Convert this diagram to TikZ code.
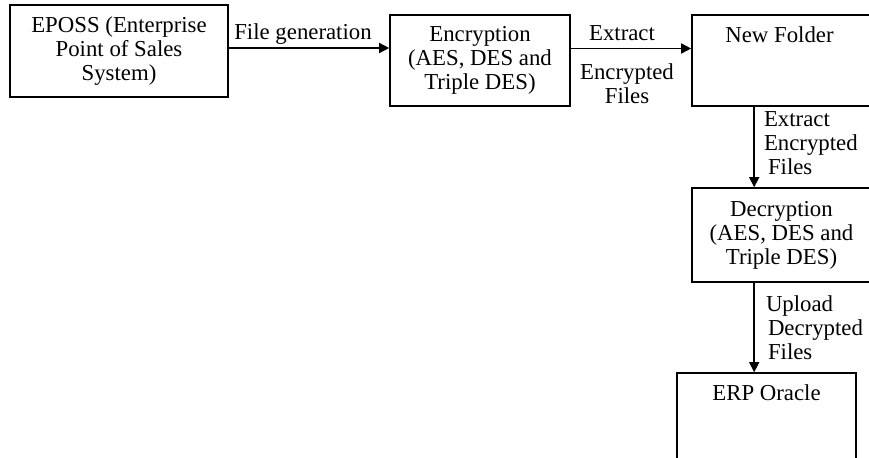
\documentclass[tikz,border=0pt]{standalone}
\usepackage{fontspec}
\setmainfont{Liberation Serif}
\usetikzlibrary{arrows.meta}

\begin{document}
\begin{tikzpicture}[x=0.5pt,y=-0.5pt,line width=0.8pt,
  font={\fontsize{11.4pt}{12pt}\selectfont},
  >={Triangle[length=5pt,width=5pt]},
  box/.style={draw,align=center,inner sep=0pt},
  lbl/.style={align=left,inner sep=0pt}]
\clip (0,0) rectangle (869,457);
\node[box,minimum width=109pt,minimum height=46pt] (eposs) at (119,51) {EPOSS (Enterprise\\Point of Sales\\System)};
\node[box,minimum width=90pt,minimum height=45.5pt] (enc) at (480,60.5) {Encryption\\(AES, DES and\\Triple DES)};
\node[box,minimum width=89.5pt,minimum height=45.5pt,
  label={[lbl,anchor=north,yshift=-6pt,xshift=-1pt]north:New Folder}] (folder) at (781.5,60.5) {};
\node[box,minimum width=89.5pt,minimum height=47pt] (dec) at (781.5,235) {Decryption\\(AES, DES and\\Triple DES)};
\node[box,minimum width=89.5pt,minimum height=60pt,
  label={[lbl,anchor=north,yshift=-6pt]north:ERP Oracle}] (erp) at (766.5,433) {};
\draw[->] ([yshift=1.5pt]eposs.east) -- ([yshift=1.5pt]eposs.east -| enc.west)
  node[lbl,midway,above=1.5pt,xshift=-3pt] {File generation};
\draw[->] ([yshift=6pt]enc.east) -- ([yshift=6pt]folder.west)
  node[lbl,midway,above=3.5pt,xshift=-4.5pt] {Extract}
  node[align=center,inner sep=0pt,midway,below=7pt,xshift=-2pt] {Encrypted\\Files};
\draw[->] ([xshift=31.5pt]folder.south west) -- ([xshift=31.5pt]dec.north west)
  node[lbl,pos=0.45,right=4.5pt] {Extract\\Encrypted\\\hspace*{2pt}Files};
\draw[->] ([xshift=31.5pt]dec.south west) -- ([xshift=39pt]erp.north west)
  node[lbl,midway,right=5.5pt] {Upload\\\hspace*{1pt}Decrypted\\\hspace*{1pt}Files};
\end{tikzpicture}
\end{document}
